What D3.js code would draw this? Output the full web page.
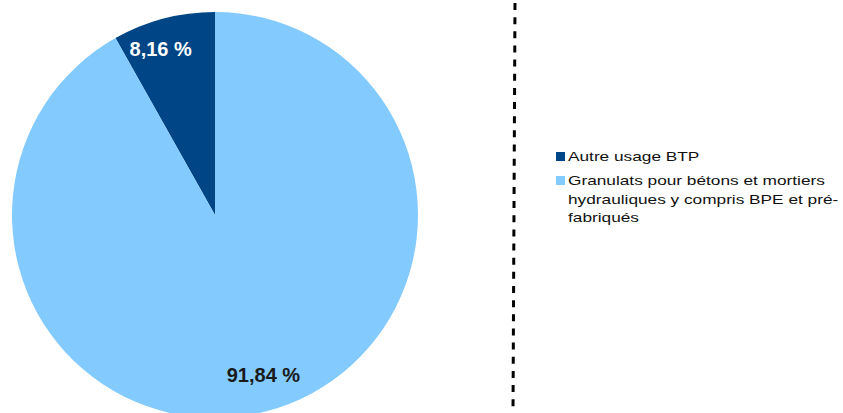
<!DOCTYPE html>
<html><head><meta charset="utf-8">
<script src="https://cdn.jsdelivr.net/npm/d3@7"></script>
<style>html,body{margin:0;padding:0;background:#fff;}svg{display:block;}</style>
</head><body>
<svg id="chart" width="843" height="413"></svg>
<script>
const categories = ["Autre usage BTP", "Granulats pour bétons et mortiers hydrauliques y compris BPE et pré-fabriqués"];
const values = [8.16, 91.84];
const valueLabels = ["8,16 %", "91,84 %"];
const legendLines = [["Autre usage BTP"], ["Granulats pour bétons et mortiers", "hydrauliques y compris BPE et pré-", "fabriqués"]];
const colors = ["#004586", "#83caff"];
const labelColors = ["#ffffff", "#1a1a1a"];

const svg = d3.select("#chart");
const cx = 215, cy = 215, r = 203;

const pie = d3.pie().sort(null).value(d => d)
  .startAngle(0).endAngle(-2 * Math.PI);
const arcs = pie(values);
const arc = d3.arc().innerRadius(0).outerRadius(r);

const g = svg.append("g").attr("transform", `translate(${cx},${cy})`);
g.selectAll("path").data(arcs).enter().append("path")
  .attr("d", arc).attr("fill", (d, i) => colors[i]);

// label placement: along an angle slightly offset from the slice middle
const labelR = [r * 0.86, r * 0.825];
const labelAngleShift = [-0.06, -0.037];
g.selectAll("text.lbl").data(arcs).enter().append("text")
  .attr("class", "lbl")
  .attr("transform", (d, i) => {
    const a = (d.startAngle + d.endAngle) / 2 + labelAngleShift[i];
    const x = Math.sin(a) * labelR[i], y = -Math.cos(a) * labelR[i];
    return `translate(${x},${y})`;
  })
  .attr("text-anchor", "middle").attr("dy", "0.35em")
  .attr("font-family", "'Liberation Sans', Arial, sans-serif")
  .attr("font-weight", "bold").attr("font-size", 20)
  .attr("fill", (d, i) => labelColors[i])
  .text((d, i) => valueLabels[i]);

// dashed separator
svg.append("line").attr("x1", 515).attr("y1", 3).attr("x2", 513).attr("y2", 413)
  .attr("stroke", "#000").attr("stroke-width", 3).attr("stroke-dasharray", "7,7.15");

// legend
const leg = svg.append("g").attr("transform", "translate(556,0)");
const itemTop = [152, 176];
const lineH = 18.5;
legendLines.forEach((lines, i) => {
  leg.append("rect").attr("x", 0).attr("y", itemTop[i]).attr("width", 9).attr("height", 9)
    .attr("fill", colors[i]);
  const t = leg.append("g").attr("class", "lt").attr("transform", `translate(12,0)`);
  lines.forEach((ln, j) => {
    t.append("text").attr("x", 0).attr("y", itemTop[i] + 9 + j * lineH)
      .attr("font-family", "'Liberation Sans', Arial, sans-serif")
      .attr("font-size", 13).attr("fill", "#111").text(ln);
  });
});
// stretch legend text to the reference width
const ref = leg.selectAll("text").filter(function(){ return this.textContent === legendLines[1][0]; }).node();
const w = ref.getComputedTextLength();
const sx = 257 / w;
leg.selectAll("g.lt").attr("transform", `translate(12,0) scale(${sx},1)`);
</script>
</body></html>
